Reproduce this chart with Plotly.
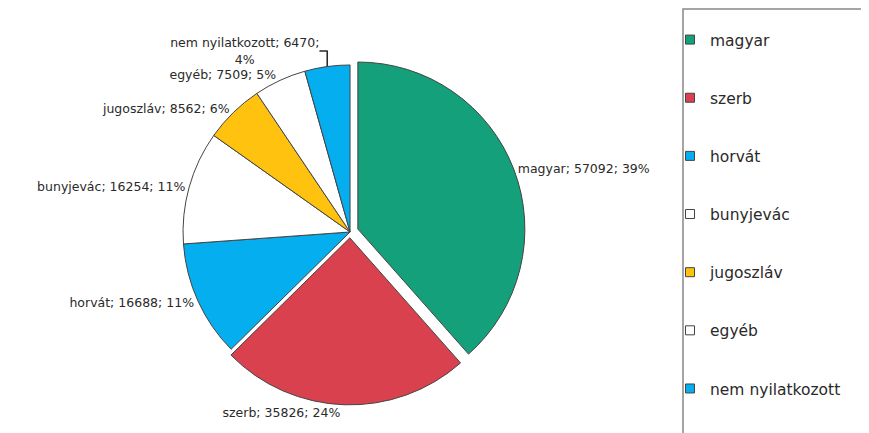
import plotly.graph_objects as go

labels = ["magyar", "szerb", "horvát", "bunyjevác", "jugoszláv", "egyéb", "nem nyilatkozott"]
values = [57092, 35826, 16688, 16254, 8562, 7509, 6470]
pct_text = ["39%", "24%", "11%", "11%", "6%", "5%", "4%"]
colors = ["#13A07A", "#D9414E", "#05AEEF", "#FFFFFF", "#FFC20E", "#FFFFFF", "#05AEEF"]
pulls = [0.05, 0.035, 0, 0, 0, 0, 0]

templates = ["%{label}; %{value:.0f}; %{customdata}"] * (len(labels) - 1) + ["%{label}; %{value:.0f};<br>%{customdata}"]

W, H = 869, 433

fig = go.Figure()
fig.add_trace(go.Pie(
    labels=labels, values=values, customdata=pct_text,
    sort=False, direction="clockwise", rotation=0,
    pull=pulls,
    marker=dict(colors=colors, line=dict(color="#444444", width=1)),
    textposition="outside", texttemplate=templates,
    textfont=dict(family="DejaVu Sans, sans-serif", size=12.5, color="#2a2a2a"),
    domain=dict(x=[0.1916, 0.5956], y=[0.0777, 0.8877]),
    showlegend=False, hoverinfo="label+value+percent",
))

for lab, col in zip(labels, colors):
    fig.add_trace(go.Scatter(
        x=[None], y=[None], mode="markers", name=lab, legendgroup=lab,
        marker=dict(symbol="square", size=9, color=col, line=dict(color="#444444", width=1)),
    ))

fig.add_shape(type="rect", xref="paper", yref="paper",
              x0=675/W, x1=1.02, y0=-0.03, y1=1 - 1/H,
              line=dict(color="#888888", width=1.5), fillcolor="rgba(0,0,0,0)")

fig.update_layout(
    width=W, height=H,
    margin=dict(l=0, r=0, t=0, b=0),
    paper_bgcolor="white", plot_bgcolor="white",
    xaxis=dict(visible=False), yaxis=dict(visible=False),
    legend=dict(x=662/W, y=1 - 15/H, xanchor="left", yanchor="top",
                tracegroupgap=35, bgcolor="rgba(0,0,0,0)", borderwidth=0,
                font=dict(family="DejaVu Sans, sans-serif", size=15.5, color="#2a2a2a")),
)

fig.write_html("out.html")
